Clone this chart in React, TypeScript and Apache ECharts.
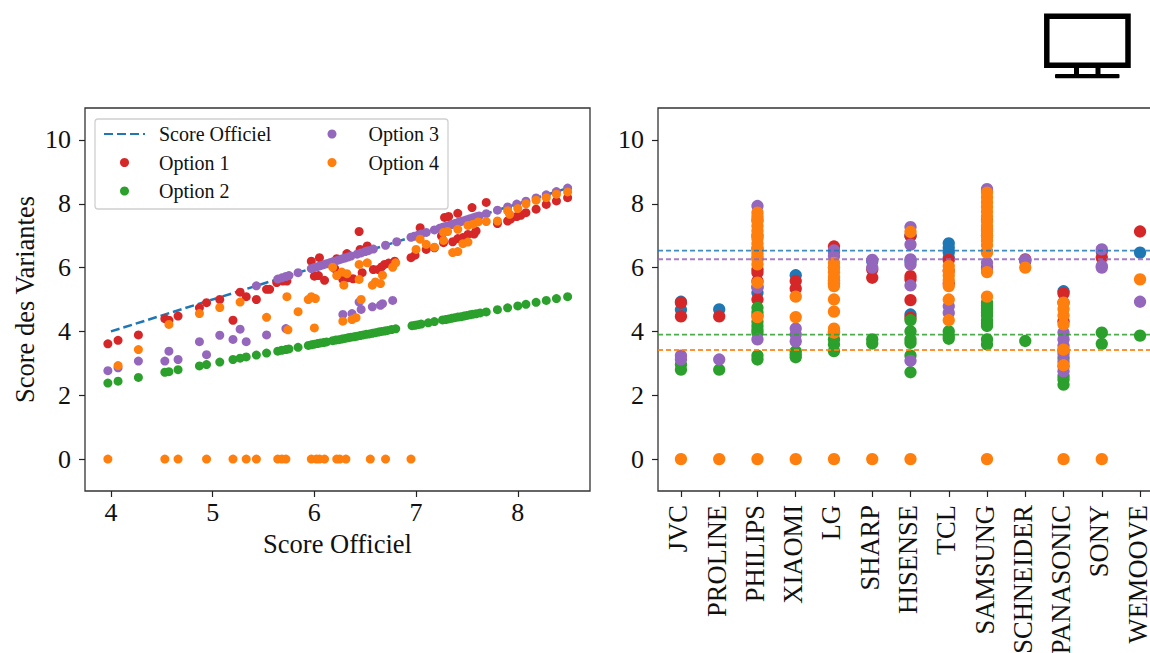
import React, { useEffect, useRef } from "react";
import * as echarts from "echarts";

const brands = ["JVC", "PROLINE", "PHILIPS", "XIAOMI", "LG", "SHARP", "HISENSE", "TCL", "SAMSUNG", "SCHNEIDER", "PANASONIC", "SONY", "WEMOOVE"];
const yTicks = [0, 2, 4, 6, 8, 10];
const xTicks = [4, 5, 6, 7, 8];
const brandTicks = [0, 1, 2, 3, 4, 5, 6, 7, 8, 9, 10, 11, 12];

const officialLine = [[4, 4], [8.5, 8.5]];

const leftOption1 = [[3.97,3.61],[4.07,3.72],[4.27,3.89],[4.53,4.4],[4.57,4.35],[4.66,4.48],[4.87,4.74],[4.94,4.9],[5.07,5.0],[5.27,5.23],[5.33,5.09],[5.2,4.35],[5.43,5.0],[5.53,5.32],[5.63,5.53],[5.66,5.63],[5.69,5.58],[5.73,5.58],[5.56,5.32],[5.97,6.2],[6.05,6.31],[6.32,6.44],[6.22,6.28],[6.0,5.73],[6.04,5.75],[6.1,5.6],[6.2,5.97],[6.28,5.63],[6.33,5.68],[6.38,5.65],[6.47,5.84],[6.58,5.94],[6.63,5.94],[6.66,6.02],[6.69,6.1],[6.73,6.14],[6.79,6.2],[6.44,7.13],[6.45,6.57],[6.52,6.68],[6.95,6.31],[6.99,6.39],[7.04,7.25],[7.1,6.57],[7.18,6.62],[7.25,6.99],[7.27,6.78],[7.28,7.57],[7.32,7.6],[7.36,6.81],[7.41,6.91],[7.41,7.7],[7.46,6.94],[7.51,7.04],[7.55,7.88],[7.57,7.05],[7.59,7.15],[7.69,8.04],[7.8,7.38],[7.9,7.46],[7.93,7.52],[7.99,7.6],[8.03,7.64],[8.08,7.72],[8.18,7.83],[8.28,7.98],[8.38,8.09],[8.49,8.19]];

const leftOption2 = [[3.97,2.38],[4.07,2.44],[4.27,2.56],[4.53,2.72],[4.57,2.74],[4.66,2.8],[4.87,2.92],[4.94,2.96],[5.07,3.04],[5.2,3.12],[5.27,3.16],[5.33,3.2],[5.43,3.26],[5.53,3.32],[5.64,3.38],[5.68,3.41],[5.72,3.43],[5.75,3.45],[5.84,3.5],[5.94,3.56],[5.97,3.58],[6.0,3.6],[6.03,3.62],[6.06,3.64],[6.09,3.65],[6.12,3.67],[6.18,3.71],[6.21,3.73],[6.24,3.74],[6.27,3.76],[6.3,3.78],[6.33,3.8],[6.36,3.82],[6.39,3.83],[6.42,3.85],[6.45,3.87],[6.48,3.89],[6.51,3.91],[6.54,3.92],[6.57,3.94],[6.6,3.96],[6.63,3.98],[6.66,4.0],[6.69,4.01],[6.72,4.03],[6.76,4.06],[6.8,4.08],[6.96,4.18],[6.99,4.19],[7.02,4.21],[7.05,4.23],[7.12,4.27],[7.18,4.31],[7.26,4.36],[7.29,4.37],[7.32,4.39],[7.35,4.41],[7.38,4.43],[7.41,4.45],[7.44,4.46],[7.47,4.48],[7.5,4.5],[7.53,4.52],[7.56,4.54],[7.59,4.55],[7.63,4.58],[7.69,4.61],[7.8,4.68],[7.9,4.74],[8.0,4.8],[8.08,4.85],[8.18,4.91],[8.28,4.97],[8.38,5.03],[8.49,5.09]];

const leftOption3 = [[3.97,2.77],[4.07,2.86],[4.27,3.07],[4.53,3.07],[4.57,3.38],[4.66,3.12],[4.87,3.68],[4.94,3.27],[5.07,3.88],[5.2,3.75],[5.27,4.07],[5.33,3.68],[5.53,3.89],[5.72,4.09],[6.28,4.53],[6.37,4.56],[6.46,4.69],[6.44,4.92],[6.57,4.77],[6.65,4.82],[6.67,4.87],[6.77,4.97],[5.43,5.43],[5.64,5.64],[5.68,5.68],[5.72,5.72],[5.75,5.75],[5.84,5.84],[5.97,5.97],[6.0,6.0],[6.03,6.03],[6.06,6.06],[6.09,6.09],[6.12,6.12],[6.15,6.15],[6.18,6.18],[6.21,6.21],[6.24,6.24],[6.27,6.27],[6.3,6.3],[6.33,6.33],[6.36,6.36],[6.42,6.42],[6.46,6.46],[6.5,6.5],[6.53,6.53],[6.58,6.58],[6.7,6.7],[6.81,6.81],[6.95,6.95],[6.98,6.98],[7.02,7.02],[7.05,7.05],[7.1,7.1],[7.18,7.18],[7.23,7.23],[7.26,7.26],[7.29,7.29],[7.32,7.32],[7.35,7.35],[7.38,7.38],[7.41,7.41],[7.44,7.44],[7.47,7.47],[7.5,7.5],[7.53,7.53],[7.56,7.56],[7.59,7.59],[7.62,7.62],[7.69,7.69],[7.8,7.8],[7.9,7.9],[7.99,7.99],[8.08,8.08],[8.18,8.18],[8.28,8.28],[8.38,8.38],[8.49,8.49]];

const leftOption4 = [[3.97,0],[4.53,0],[4.66,0],[4.94,0],[5.2,0],[5.33,0],[5.43,0],[5.64,0],[5.68,0],[5.72,0],[5.97,0],[6.02,0],[6.05,0],[6.1,0],[6.22,0],[6.25,0],[6.31,0],[6.55,0],[6.7,0],[6.95,0],[4.07,2.93],[4.27,3.43],[4.57,4.22],[4.87,4.56],[5.07,4.75],[5.27,4.92],[5.53,4.44],[5.73,5.09],[5.74,4.05],[5.84,4.62],[5.94,5.0],[5.97,5.09],[6.01,5.03],[6.0,4.11],[6.18,6.01],[6.22,5.75],[6.27,5.86],[6.32,5.81],[6.29,5.45],[6.28,4.32],[6.37,4.37],[6.41,4.43],[6.44,6.1],[6.44,5.63],[6.46,5.0],[6.52,6.15],[6.57,5.45],[6.6,5.55],[6.65,5.5],[6.67,5.76],[6.77,6.01],[6.8,6.15],[7.0,6.57],[7.04,6.89],[7.1,6.73],[7.18,6.64],[7.27,7.1],[7.31,7.13],[7.27,6.85],[7.36,6.47],[7.41,6.5],[7.41,7.2],[7.46,6.75],[7.51,6.8],[7.51,7.32],[7.56,7.36],[7.61,7.43],[7.69,7.44],[7.8,7.46],[7.9,7.78],[7.92,7.67],[8.0,7.85],[8.08,8.0],[8.18,8.11],[8.28,8.19],[8.38,8.3],[8.49,8.37]];

const brandOfficial = [[4.93,4.68],[4.69],[5.21,5.4],[5.76],[6.5],[6.2],[7.0,6.2,4.53],[6.76,6.62,6.47,6.3],[8.4,7.5,6.5],[6.2],[5.26],[6.5],[6.47]];
const brandOption1 = [[4.9,4.47],[4.47],[5.94,5.84,5.58,5.0],[5.58,5.34],[6.66,5.5,4.0],[5.94,5.68],[6.99,5.73,5.63,4.98,4.43],[6.24,5.9,5.5],[7.0,6.0],[6.26],[5.19,4.9,4.32,3.4],[6.31],[7.13]];
const brandOption2 = [[2.96,2.8],[2.8],[4.74,4.6,4.5,4.3,4.17,4.05,3.96,3.24,3.12],[3.38,3.28,3.19],[3.96,3.75,3.59,3.38],[3.75,3.62],[4.35,4.0,3.75,3.64,3.24,2.72],[4.0,3.85,3.77],[4.9,4.8,4.7,4.6,4.5,4.35,4.25,4.17,3.75,3.59],[3.7],[3.17,2.6,2.49,2.33],[3.96,3.61],[3.87]];
const brandOption3 = [[3.24,3.12],[3.12],[7.93,7.5,7.0,6.6,6.3,5.37,3.75],[4.09,3.9,3.69],[6.54,6.36,6.0,5.6],[6.24,6.0],[7.27,6.72,6.26,6.1,5.44,3.08],[4.79,4.58],[8.46,7.2,6.15,5.95],[6.24],[3.96,3.75,3.55,3.3,3.05,2.9,2.75],[6.57,6.05,6.0],[4.93]];
const brandOption4 = [[0],[0],[7.72,7.6,7.45,7.3,7.15,7.0,6.9,6.75,6.6,6.5,6.4,6.25,6.1,5.53,4.45,0],[5.09,4.45,0],[6.15,6.0,5.85,5.7,5.55,5.42,5.0,4.62,4.09,3.96,0],[0],[7.12,0],[6.05,5.9,5.75,5.6,5.42,5.0,4.35],[8.35,8.2,8.05,7.9,7.75,7.6,7.45,7.3,7.15,7.0,6.85,6.7,6.47,5.86,5.09,0],[6.0],[4.9,4.7,4.5,4.22,3.43,2.94,0],[0],[5.63]];
const meanOfficial = 6.53;
const meanOption3 = 6.26;
const meanOption2 = 3.9;
const meanOption4 = 3.42;

const BLUE = "#1f77b4";
const RED = "#d62728";
const GREEN = "#2ca02c";
const PURPLE = "#9467bd";
const ORANGE = "#ff7f0e";
const FONT = "'Liberation Serif', 'Times New Roman', serif";

function byBrand(rows: number[][]) {
  const out: number[][] = [];
  rows.forEach((vals, i) => vals.forEach((v) => out.push([i, v])));
  return out;
}

function axisBase() {
  return {
    splitLine: { show: false },
    axisLine: { show: false, onZero: false },
  };
}

function App() {
  const ref = useRef<HTMLDivElement>(null);
  useEffect(() => {
    const chart = echarts.init(ref.current!, null, { renderer: "svg" });
    const tick = (vals: number[]) => ({ show: true, length: 6, inside: false, customValues: vals, lineStyle: { color: "#222", width: 1.2 } });
    const label = (vals: number[], extra: any = {}) => ({ show: true, customValues: vals, color: "#111", fontFamily: FONT, fontSize: 26, margin: 8, ...extra });
    const scatter = (name: string, color: string, data: number[][], size: number, x: number) => ({
      name, type: "scatter", data, xAxisIndex: x, yAxisIndex: x, symbol: "circle", symbolSize: size,
      itemStyle: { color, opacity: 1 }, z: 3,
    });
    const dashed = (color: string, y: number) => ({
      type: "line", xAxisIndex: 1, yAxisIndex: 1, symbol: "none", silent: true, z: 4,
      data: [[-0.6, y], [12.6, y]],
      lineStyle: { color, width: 1.9, type: [5, 3], opacity: 0.85 },
    });
    const legendBase = {
      orient: "vertical", itemWidth: 41, itemHeight: 9, itemGap: 8.5, padding: 0,
      textStyle: { fontFamily: FONT, fontSize: 20, color: "#111", padding: [0, 0, 0, 9] },
      selectedMode: false,
    };
    chart.setOption({
      animation: false,
      backgroundColor: "#ffffff",
      grid: [
        { left: 85, top: 108, width: 505, height: 383, show: true, borderColor: "#333", borderWidth: 1.3, backgroundColor: "transparent", outerBoundsMode: "none" },
        { left: 658, top: 108, width: 505, height: 383, show: true, borderColor: "#333", borderWidth: 1.3, backgroundColor: "transparent", outerBoundsMode: "none" },
      ],
      xAxis: [
        { ...axisBase(), type: "value", gridIndex: 0, min: 3.745, max: 8.71, axisTick: tick(xTicks), axisLabel: label(xTicks),
          name: "Score Officiel", nameLocation: "middle", nameGap: 39, nameTextStyle: { fontFamily: FONT, fontSize: 26.5, color: "#111" } },
        { ...axisBase(), type: "value", gridIndex: 1, min: -0.6, max: 12.6, axisTick: tick(brandTicks),
          axisLabel: label(brandTicks, { rotate: 90, margin: 14, fontSize: 26.5, verticalAlign: "bottom", lineHeight: 5, formatter: (v: number) => brands[Math.round(v)] ?? "" }) },
      ],
      yAxis: [
        { ...axisBase(), type: "value", gridIndex: 0, min: -1, max: 11, axisTick: tick(yTicks), axisLabel: label(yTicks, { margin: 14 }),
          name: "Score des Variantes", nameLocation: "middle", nameGap: 47, nameTextStyle: { fontFamily: FONT, fontSize: 26.5, color: "#111" } },
        { ...axisBase(), type: "value", gridIndex: 1, min: -1, max: 11, axisTick: tick(yTicks), axisLabel: label(yTicks, { margin: 14 }) },
      ],
      legend: [
        { ...legendBase, left: 103, top: 124, data: [{ name: "Score Officiel", itemStyle: { opacity: 0 } }, "Option 1", "Option 2"] },
        { ...legendBase, left: 327.5, top: 124, textStyle: { ...legendBase.textStyle, padding: [0, 0, 0, 11] }, data: ["Option 3", "Option 4"] },
      ],
      graphic: [
        { type: "rect", z: 1, shape: { x: 95, y: 119, width: 353, height: 90, r: 3 }, style: { fill: "#fff", stroke: "#d0d0d0", lineWidth: 1.3 } },
        { type: "rect", shape: { x: 1046.8, y: 16.3, width: 81.2, height: 49 }, style: { fill: "#fff", stroke: "#000", lineWidth: 5.5 } },
        { type: "rect", shape: { x: 1074, y: 68, width: 5, height: 7 }, style: { fill: "#000" } },
        { type: "rect", shape: { x: 1095.5, y: 68, width: 5, height: 7 }, style: { fill: "#000" } },
        { type: "rect", shape: { x: 1055, y: 74, width: 64.5, height: 4.3, r: 1 }, style: { fill: "#000" } },
      ],
      series: [
        { name: "Score Officiel", type: "line", xAxisIndex: 0, yAxisIndex: 0, symbol: "none", data: officialLine, z: 2,
          lineStyle: { color: BLUE, width: 2.5, type: [9, 4] }, itemStyle: { color: BLUE } },
        scatter("Option 1", RED, leftOption1, 9, 0),
        scatter("Option 2", GREEN, leftOption2, 9, 0),
        scatter("Option 3", PURPLE, leftOption3, 9, 0),
        scatter("Option 4", ORANGE, leftOption4, 9, 0),
        scatter("Officiel marque", BLUE, byBrand(brandOfficial), 12.3, 1),
        scatter("Option 1 marque", RED, byBrand(brandOption1), 12.3, 1),
        scatter("Option 2 marque", GREEN, byBrand(brandOption2), 12.3, 1),
        scatter("Option 3 marque", PURPLE, byBrand(brandOption3), 12.3, 1),
        scatter("Option 4 marque", ORANGE, byBrand(brandOption4), 12.3, 1),
        dashed(BLUE, meanOfficial),
        dashed(PURPLE, meanOption3),
        dashed(GREEN, meanOption2),
        dashed(ORANGE, meanOption4),
      ],
    });
    return () => chart.dispose();
  }, []);
  return <div ref={ref} style={{ position: "absolute", left: 0, top: 0, width: 1150, height: 653, overflow: "hidden" }} />;
}

export default App;
